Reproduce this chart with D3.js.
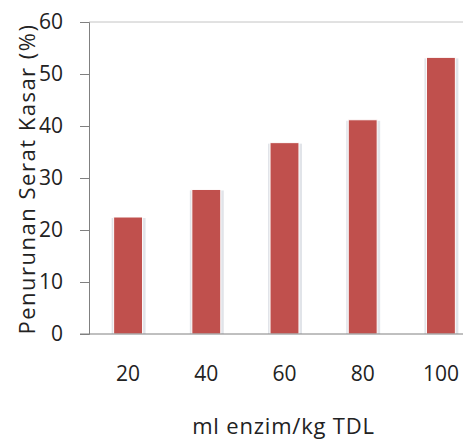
<!DOCTYPE html>
<html>
<head>
<meta charset="utf-8">
<script src="https://cdn.jsdelivr.net/npm/d3@7"></script>
<style>
  body { margin: 0; background: #fff; }
  text { font-family: "Open Sans", "Noto Sans", sans-serif; fill: #222; }
</style>
</head>
<body>
<svg id="chart" width="463" height="442"></svg>
<script>
// datos
var categorias = ["20", "40", "60", "80", "100"];
var valores = [22.5, 27.8, 36.8, 41.2, 53.2];
var ticksY = [0, 10, 20, 30, 40, 50, 60];

var svg = d3.select("#chart");
var mIzq = 89, mSup = 22, mInf = 334, mDer = 480;

var x = d3.scaleBand()
  .domain(categorias)
  .range([mIzq, mDer])
  .paddingInner(0.63)
  .paddingOuter(0.315);

var y = d3.scaleLinear()
  .domain([0, 60])
  .range([mInf, mSup]);

// linea superior del area
svg.append("line")
  .attr("x1", mIzq).attr("x2", 463)
  .attr("y1", y(60)).attr("y2", y(60))
  .attr("stroke", "#c4c4c4").attr("stroke-width", 1);

// sombra de las barras
svg.append("g").selectAll("rect")
  .data(valores)
  .enter().append("rect")
  .attr("x", function(d, i) { return x(categorias[i]) - 2; })
  .attr("y", function(d) { return y(d) + 1; })
  .attr("width", x.bandwidth() + 5)
  .attr("height", function(d) { return mInf - y(d) - 1; })
  .attr("fill", "#e1e4e9");

// barras
svg.append("g").selectAll("rect")
  .data(valores)
  .enter().append("rect")
  .attr("x", function(d, i) { return x(categorias[i]); })
  .attr("y", function(d) { return y(d); })
  .attr("width", x.bandwidth())
  .attr("height", function(d) { return mInf - y(d); })
  .attr("fill", "#c0504d")
  .attr("stroke", "#fff")
  .attr("stroke-width", 1);

// eje Y
var ejeY = svg.append("g")
  .attr("transform", "translate(" + mIzq + ",0)")
  .call(d3.axisLeft(y).tickValues(ticksY).tickSize(9).tickPadding(17));
ejeY.select(".domain").attr("stroke", "#808080");
ejeY.selectAll(".tick line").attr("stroke", "#808080");
ejeY.selectAll(".tick text")
  .style("font-size", "21px")
  .attr("fill", "#222");

// eje X
var ejeX = svg.append("g")
  .attr("transform", "translate(0," + mInf + ")")
  .call(d3.axisBottom(x).tickSize(0).tickPadding(32));
ejeX.select(".domain").remove();
ejeX.selectAll(".tick text")
  .style("font-size", "21px")
  .attr("fill", "#222");
svg.append("line")
  .attr("x1", mIzq - 9).attr("x2", 463)
  .attr("y1", mInf).attr("y2", mInf)
  .attr("stroke", "#808080");

// titulos de los ejes
svg.append("text")
  .attr("x", (mIzq + mDer) / 2 - 1)
  .attr("y", 434)
  .attr("text-anchor", "middle")
  .style("font-size", "22px")
  .style("letter-spacing", "0.8px")
  .text("ml enzim/kg TDL");

svg.append("text")
  .attr("transform", "translate(35," + 179 + ") rotate(-90)")
  .attr("text-anchor", "middle")
  .style("font-size", "22px")
  .style("letter-spacing", "1.5px")
  .text("Penurunan  Serat Kasar (%)");
</script>
</body>
</html>
